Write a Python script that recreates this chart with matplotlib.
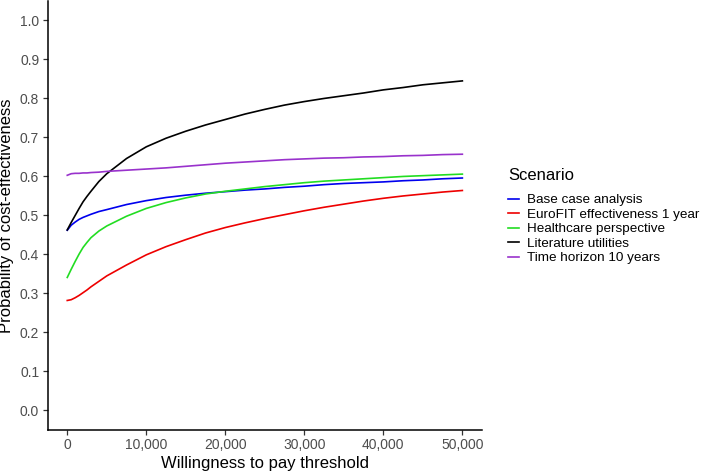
import matplotlib
matplotlib.use("Agg")
import matplotlib.pyplot as plt
from matplotlib.ticker import FuncFormatter

plt.rcParams['font.family'] = ['Liberation Sans', 'DejaVu Sans']

# willingness to pay thresholds
wtp = [0, 500, 1000, 1500, 2000, 2500, 3000, 4000, 5000, 7500, 10000, 12500, 15000,
       17500, 20000, 22500, 25000, 27500, 30000, 32500, 35000, 37500, 40000, 42500,
       45000, 47500, 50000]

base_case = [0.462, 0.475, 0.483, 0.490, 0.495, 0.499, 0.503, 0.510, 0.515, 0.528,
             0.538, 0.546, 0.552, 0.557, 0.561, 0.565, 0.568, 0.572, 0.575, 0.579,
             0.582, 0.584, 0.586, 0.589, 0.591, 0.594, 0.596]
eurofit_1yr = [0.282, 0.284, 0.289, 0.295, 0.302, 0.309, 0.317, 0.331, 0.345, 0.373,
               0.399, 0.420, 0.438, 0.455, 0.469, 0.481, 0.492, 0.502, 0.512, 0.521,
               0.529, 0.537, 0.544, 0.550, 0.555, 0.560, 0.564]
healthcare = [0.341, 0.362, 0.382, 0.401, 0.418, 0.431, 0.443, 0.460, 0.473, 0.498,
              0.518, 0.533, 0.545, 0.555, 0.562, 0.568, 0.574, 0.579, 0.584, 0.588,
              0.591, 0.594, 0.597, 0.600, 0.602, 0.604, 0.606]
literature = [0.463, 0.482, 0.500, 0.518, 0.535, 0.549, 0.562, 0.587, 0.607, 0.646,
              0.676, 0.698, 0.716, 0.732, 0.746, 0.760, 0.772, 0.783, 0.792, 0.800,
              0.807, 0.814, 0.822, 0.828, 0.835, 0.840, 0.845]
horizon_10 = [0.603, 0.607, 0.608, 0.608, 0.609, 0.609, 0.610, 0.611, 0.613, 0.616,
              0.619, 0.622, 0.626, 0.630, 0.634, 0.637, 0.640, 0.643, 0.645, 0.647,
              0.648, 0.650, 0.651, 0.653, 0.654, 0.656, 0.657]

scenarios = ["Base case analysis", "EuroFIT effectiveness 1 year",
             "Healthcare perspective", "Literature utilities", "Time horizon 10 years"]
series = [base_case, eurofit_1yr, healthcare, literature, horizon_10]
colors = ["#0000EE", "#EE0000", "#22DD22", "#000000", "#9932CC"]

x_ticks = [0, 10000, 20000, 30000, 40000, 50000]
y_ticks = [0.0, 0.1, 0.2, 0.3, 0.4, 0.5, 0.6, 0.7, 0.8, 0.9, 1.0]

fig = plt.figure(figsize=(7.09, 4.73), dpi=100)
ax = fig.add_axes([0.067, 0.091, 0.613, 0.907])

for name, vals, col in zip(scenarios, series, colors):
    ax.plot(wtp, vals, color=col, lw=1.2, label=name)

ax.set_xlim(-2500, 52500)
ax.set_ylim(-0.05, 1.05)
ax.set_xticks(x_ticks)
ax.set_yticks(y_ticks)
ax.xaxis.set_major_formatter(FuncFormatter(lambda v, p: f"{int(v):,}"))
ax.yaxis.set_major_formatter(FuncFormatter(lambda v, p: f"{v:.1f}"))
ax.tick_params(axis="both", length=3.5, width=0.9, color="#333333",
               labelcolor="#4D4D4D", labelsize=10, pad=2.5)

for s in ["top", "right"]:
    ax.spines[s].set_visible(False)
for s in ["left", "bottom"]:
    ax.spines[s].set_linewidth(1.1)
    ax.spines[s].set_color("black")

ax.set_xlabel("Willingness to pay threshold", fontsize=12, labelpad=3)
ax.set_ylabel("Probability of cost-effectiveness", fontsize=12, labelpad=4)

# legend title placed separately to get the ggplot gap
fig.text(508 / 709, 1 - 176 / 473, "Scenario", fontsize=12, va="center", ha="left")
leg = fig.legend(loc="upper left", bbox_to_anchor=(0.7165, 1 - 194 / 473), frameon=False,
                 fontsize=9.7, handlelength=0.8, handletextpad=0.6, labelspacing=0.15,
                 borderpad=0, borderaxespad=0)

fig.savefig("out.png", dpi=100)
